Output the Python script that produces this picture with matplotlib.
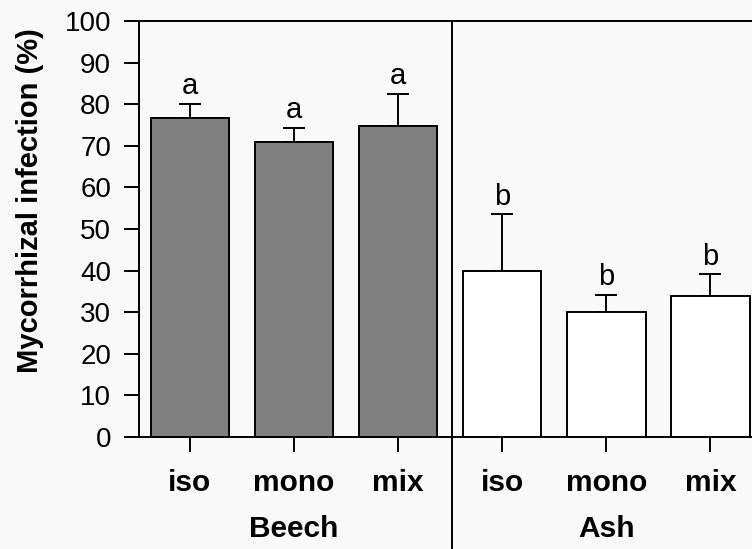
import matplotlib.pyplot as plt
from matplotlib.transforms import blended_transform_factory

# Data
treatments = ["iso", "mono", "mix", "iso", "mono", "mix"]
species = ["Beech", "Ash"]
infection = [76.7, 70.9, 74.8, 40.0, 30.0, 34.0]
err_upper = [3.3, 3.4, 7.7, 13.5, 4.2, 5.1]
letters = ["a", "a", "a", "b", "b", "b"]
bar_colors = ["#808080"] * 3 + ["white"] * 3

plt.rcParams["font.family"] = ["Liberation Sans", "DejaVu Sans"]
bg = "#f9f9f9"

fig = plt.figure(figsize=(7.52, 5.49), dpi=100, facecolor=bg)
ax = fig.add_axes([139 / 752, 1 - 437 / 549, 1 - 139 / 752, (437 - 21) / 549])
ax.set_facecolor(bg)

x = list(range(len(infection)))
lw = 1.4
ax.bar(x, infection, width=0.754, color=bar_colors, edgecolor="black", linewidth=lw, zorder=2)
ax.errorbar(x, infection, yerr=[[0] * len(x), err_upper], fmt="none", ecolor="black",
            elinewidth=lw, capsize=8, capthick=lw, zorder=1)

for xi, yi, e, lab in zip(x, infection, err_upper, letters):
    ax.annotate(lab, (xi, yi + e), xytext=(0, 7), textcoords="offset points",
                ha="center", va="baseline", fontsize=21)

ax.set_xlim(-0.49, 5.40)
ax.set_ylim(0, 100)
ax.set_yticks(range(0, 101, 10))
ax.set_xticks(x)
ax.set_xticklabels(treatments, fontsize=21.5, fontweight="bold")
ax.tick_params(axis="y", labelsize=20, length=11, width=lw, direction="out", pad=9)
ax.tick_params(axis="x", length=11, width=lw, direction="out", pad=12)

for side in ["left", "bottom", "top"]:
    ax.spines[side].set_linewidth(lw)
ax.spines["right"].set_visible(False)

# divider between species, running below the axis
trans = blended_transform_factory(ax.transData, ax.transAxes)
ax.plot([2.52, 2.52], [1, -0.27], transform=trans, color="black", linewidth=lw, clip_on=False)

for pos, name in zip([1, 4], species):
    ax.text(pos, -0.22, name, transform=trans, ha="center", va="center",
            fontsize=21.5, fontweight="bold")

fig.text(30 / 752, 1 - 201 / 549, "Mycorrhizal infection (%)", rotation=90,
         ha="center", va="center", fontsize=21, fontweight="bold")

fig.savefig("out.png", dpi=100, facecolor=bg)
